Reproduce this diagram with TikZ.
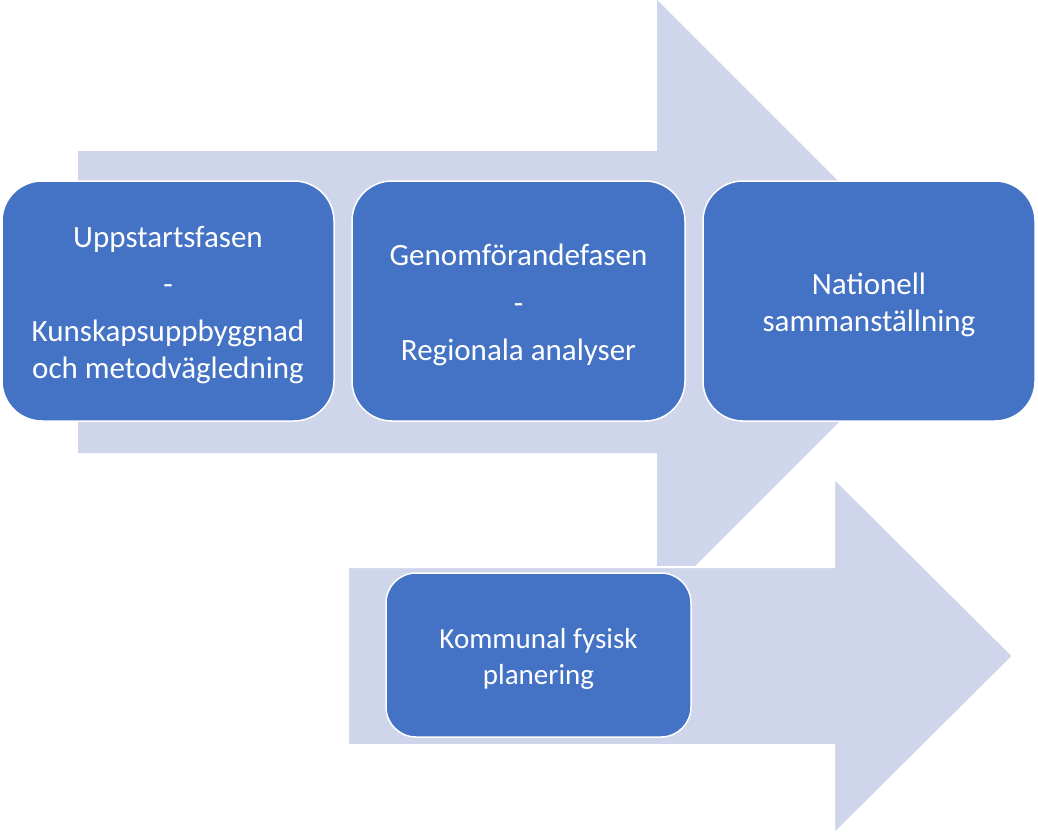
\documentclass[tikz,border=0pt]{standalone}
\usepackage{fontspec}
\setmainfont{Carlito}
\definecolor{arrowfill}{HTML}{CFD5EA}
\definecolor{boxfill}{HTML}{4472C4}
\begin{document}
\begin{tikzpicture}[x=1pt,y=-1pt,
  bigarrow/.style={fill=arrowfill,draw=none},
  smallarrow/.style={fill=arrowfill,draw=white,line width=2pt},
  phase/.style={fill=boxfill,draw=white,line width=1.5pt,rounded corners=40pt,inner sep=0pt},
  phasesmall/.style={phase,rounded corners=30pt},
  phasetext/.style={text=white,align=center,inner sep=0pt,yshift=-4pt,
    font=\fontsize{31}{37}\selectfont},
  phasetextsmall/.style={phasetext,font=\fontsize{29}{36}\selectfont}]
\useasboundingbox (0,0) rectangle (1038,840);
% big arrow
\fill[bigarrow] (78,151) -- (657,151) -- (657,0) -- (959,302) -- (657,604) -- (657,453) -- (78,453) -- cycle;
% second arrow
\filldraw[smallarrow] (348,567) -- (834,567) -- (834,478) -- (1013,656) -- (834,834) -- (834,745) -- (348,745) -- cycle;
% boxes
\node[phase,minimum width=332pt,minimum height=240pt] (b1) at (168,301) {};
\node[phase,minimum width=333pt,minimum height=240pt] (b2) at (518.5,301) {};
\node[phase,minimum width=332pt,minimum height=240pt] (b3) at (869,301) {};
\node[phasesmall,minimum width=305pt,minimum height=164pt] (b4) at (538.5,655) {};
% texts
\node[phasetext] (t1) at (b1.center)
  {Uppstartsfasen\\[10pt]-\\[10pt]Kunskapsuppbyggnad\\och metodvägledning};
\node[phasetext] (t2) at (b2.center)
  {Genomförandefasen\\[11pt]-\\[10pt]Regionala analyser};
\node[phasetext] (t3) at (b3.center)
  {Nationell\\sammanställning};
\node[phasetextsmall] (t4) at (b4.center)
  {Kommunal fysisk\\planering};
\end{tikzpicture}
\end{document}
